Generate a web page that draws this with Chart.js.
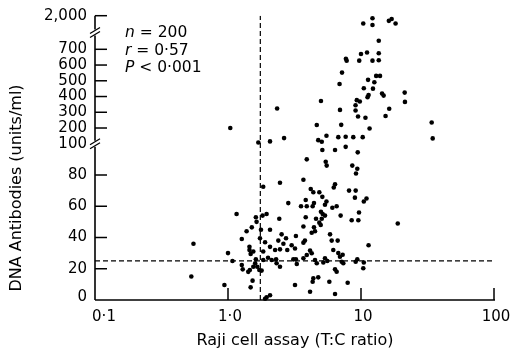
<!DOCTYPE html>
<html>
<head>
<meta charset="utf-8">
<script src="https://cdn.jsdelivr.net/npm/chart.js@4.4.1/dist/chart.umd.min.js"></script>
<style>
  html, body { margin: 0; padding: 0; background: #fff; }
</style>
</head>
<body>
<canvas id="rajiChart" width="512" height="349"></canvas>
<script>
// Raji cell assay (T:C ratio) for each patient
const raji = [
  12.2, 10.4, 12.2, 16.2, 17, 18.2, 13.6, 10, 11.1, 13.6,
  7.7, 7.8, 9.7, 12.2, 13.6, 7.2, 13.0, 13.9, 6.9, 11.3,
  12.6, 10.5, 12.3, 11.4, 11.2, 14.4, 14.8, 21.3, 21.4, 5.0,
  9.3, 9.8, 9.1, 2.34, 6.95, 9.1, 16.3, 15.3, 9.5, 10.8,
  4.65, 7.1, 11.6, 34, 34.6, 1.69, 2.07, 2.64, 1.04, 5.5,
  4.77, 5.07, 6.75, 7.67, 8.75, 10.3, 5.12, 6.38, 7.67, 9.45,
  3.91, 5.43, 5.52, 8.6, 9.38, 9.17, 2.46, 1.84, 2.84, 1.16,
  1.62, 1.64, 1.82, 1.95, 2.43, 3.69, 6.38, 6.24, 4.19, 4.38,
  4.86, 8.13, 9.12, 5.12, 3.84, 9.0, 11.0, 10.5, 5.5, 5.36,
  4.43, 4.33, 3.54, 3.91, 6.09, 6.56, 5.0, 5.15, 5.36, 5.07,
  4.86, 3.84, 4.59, 7.03, 9.66, 8.51, 9.55, 1.51, 1.38, 1.27,
  1.77, 2.07, 1.74, 1.9, 2.07, 2.26, 2.46, 2.61, 2.73, 2.53,
  2.39, 2.79, 1.45, 1.45, 1.55, 1.48, 1.0, 1.08, 1.84, 1.84,
  2.13, 2.32, 2.46, 2.3, 1.27, 1.29, 1.42, 1.46, 1.55, 1.6,
  1.66, 1.72, 1.79, 1.53, 1.48, 0.94, 1.95, 2.07, 1.9, 3.69,
  4.43, 4.98, 4.26, 4.51, 3.24, 3.69, 3.79, 3.01, 3.19, 5.85,
  6.02, 6.68, 4.14, 4.26, 3.91, 3.69, 3.24, 3.1, 3.29, 4.51,
  4.65, 5.36, 5.58, 5.21, 6.19, 6.75, 6.95, 7.28, 7.16, 7.36,
  9.12, 10.5, 10.4, 11.4, 6.38, 6.56, 4.38, 4.33, 4.77, 3.19,
  4.14, 5.78, 7.94, 6.38, 18.9, 9.38, 0.55, 0.53, 1.62, 2.0
];

// DNA antibodies (units/ml), same order
const dna = [
  1900, 1700, 1640, 1800, 1870, 1700, 1030, 670, 680, 675,
  640, 628, 628, 628, 630, 552, 531, 531, 480, 506,
  491, 453, 450, 410, 396, 419, 406, 425, 366, 372,
  377, 368, 345, 324, 315, 311, 322, 276, 273, 265,
  219, 220, 197, 235, 134, 108, 115, 136, 200, 151,
  123, 113, 142, 144, 142, 142, 96, 96, 98, 94.5,
  90, 88.5, 86, 86, 84, 81, 75, 72.5, 62, 55,
  53, 50, 54, 55, 52, 77, 74, 72, 71, 69,
  69, 70, 70, 66, 64, 65.5, 65, 63, 63, 61,
  62, 60, 60, 60, 59, 60, 56.5, 55, 54, 52,
  49.5, 53, 52, 54, 56, 51, 51, 46.5, 44, 39,
  45, 45, 39.5, 37, 34, 32, 32.4, 36, 39.5, 42,
  38, 32, 34, 32, 31, 29.5, 30, 25, 31, 25.6,
  25.6, 23.5, 21.3, 26, 22.4, 19.6, 18, 19.2, 21.3, 23.5,
  21.3, 19.2, 18.8, 12.4, 8.1, 9.6, 1.7, 3, 0.8, 47,
  46.5, 48, 43, 44, 41, 36.7, 38, 35, 33, 42,
  38, 38, 31.6, 29.9, 28.8, 26.7, 26, 26, 23, 25.6,
  23.5, 26.7, 25, 24, 32, 30, 27.7, 29, 24.5, 23.5,
  24.5, 24, 20.3, 35, 19.6, 18.1, 13.9, 11.7, 14.5, 9.6,
  5.3, 11.7, 11, 3.8, 49, 26, 36, 15, 26, 27
];

const xTicks = [0.1, 1, 10, 100];
const xTickLabels = ['0·1', '1·0', '10', '100'];
const yTicks = [0, 20, 40, 60, 80, 100, 200, 300, 400, 500, 600, 700, 2000];
const yTickLabels = ['0', '20', '40', '60', '80', '100', '200', '300', '400', '500', '600', '700', '2,000'];

const rajiCutoff = 1.75;
const dnaCutoff = 25;
const statLines = [['n', ' = 200'], ['r', ' = 0·57'], ['P', ' < 0·001']];

// broken y axis: 0-100 linear, 100-700 compressed, 700-2000 compressed again
function toAxis(v) {
  if (v <= 100) return v * 1.5625;
  if (v <= 700) return 156.25 + (v - 100) * 0.15742;
  return 250.7 + (v - 700) * 0.025846;
}

const FONT = '"DejaVu Sans", sans-serif';

const axesPlugin = {
  id: 'brokenAxes',
  afterDraw(chart) {
    const ctx = chart.ctx;
    const xs = chart.scales.x, ys = chart.scales.y;
    const x0 = xs.getPixelForValue(0.1);
    const x1 = xs.getPixelForValue(100);
    const yb = ys.getPixelForValue(0);
    const yt = ys.getPixelForValue(toAxis(2000));
    const brk1 = ys.getPixelForValue(toAxis(100));
    const brk2 = (ys.getPixelForValue(toAxis(700)) + yt) / 2;

    ctx.save();
    ctx.strokeStyle = '#000';
    ctx.lineWidth = 1.6;
    ctx.setLineDash([]);

    function seg(ax, ay, bx, by) {
      ctx.beginPath(); ctx.moveTo(ax, ay); ctx.lineTo(bx, by); ctx.stroke();
    }

    // axis lines
    seg(x0, yb, x1 + 1, yb);
    seg(x0, yb, x0, brk1 + 3);
    seg(x0, brk1 - 3, x0, brk2 + 3);
    seg(x0, brk2 - 3, x0, yt);

    // break marks
    ctx.lineWidth = 1.3;
    [brk1, brk2].forEach(function (y) {
      seg(x0 - 5, y + 5, x0 + 5, y - 1);
      seg(x0 - 5, y + 1, x0 + 5, y - 5);
    });

    // ticks (pointing inward)
    ctx.lineWidth = 1.5;
    yTicks.forEach(function (v) {
      if (v === 0 || v === 100) return;
      const y = ys.getPixelForValue(toAxis(v));
      seg(x0, y, x0 + 12, y);
    });
    xTicks.forEach(function (v) {
      if (v === 0.1) return;
      const x = xs.getPixelForValue(v);
      seg(x, yb, x, yb - 12);
    });

    // tick labels
    ctx.fillStyle = '#000';
    ctx.font = '15px ' + FONT;
    ctx.textAlign = 'right';
    ctx.textBaseline = 'middle';
    yTicks.forEach(function (v, i) {
      const y = ys.getPixelForValue(toAxis(v));
      ctx.fillText(yTickLabels[i], x0 - 8, v === 0 ? y - 3 : y);
    });
    ctx.textAlign = 'center';
    xTicks.forEach(function (v, i) {
      const x = xs.getPixelForValue(v);
      ctx.fillText(xTickLabels[i], v === 0.1 ? x + 9 : x + 2, yb + 17);
    });

    // axis titles
    ctx.font = '16px ' + FONT;
    ctx.fillText('Raji cell assay (T:C ratio)', 295, 341);
    ctx.save();
    ctx.translate(17, 188);
    ctx.rotate(-Math.PI / 2);
    ctx.fillText('DNA Antibodies (units/ml)', 0, 0);
    ctx.restore();

    // stats
    ctx.textAlign = 'left';
    statLines.forEach(function (p, i) {
      const y = 33 + i * 17.5;
      ctx.font = 'italic 15.5px ' + FONT;
      ctx.fillText(p[0], 125, y);
      const w = ctx.measureText(p[0]).width;
      ctx.font = '15.5px ' + FONT;
      ctx.fillText(p[1], 125 + w, y);
    });
    ctx.restore();
  }
};

const points = raji.map(function (r, i) { return { x: r, y: toAxis(dna[i]) }; });

new Chart(document.getElementById('rajiChart').getContext('2d'), {
  type: 'scatter',
  data: {
    datasets: [
      {
        data: points,
        pointRadius: 2.3,
        pointHoverRadius: 2.3,
        pointBackgroundColor: '#000',
        pointBorderWidth: 0,
        clip: false
      },
      {
        type: 'line',
        data: [{ x: 0.1, y: toAxis(dnaCutoff) }, { x: 100, y: toAxis(dnaCutoff) }],
        borderColor: '#000',
        borderWidth: 1.2,
        borderDash: [5, 3],
        pointRadius: 0,
        fill: false
      },
      {
        type: 'line',
        data: [{ x: rajiCutoff, y: 0 }, { x: rajiCutoff, y: toAxis(2000) }],
        borderColor: '#000',
        borderWidth: 1.2,
        borderDash: [5, 3],
        pointRadius: 0,
        fill: false
      }
    ]
  },
  options: {
    responsive: false,
    animation: false,
    layout: { padding: { left: 95, right: 18, top: 15.7, bottom: 49 } },
    plugins: { legend: { display: false }, tooltip: { enabled: false } },
    scales: {
      x: { type: 'logarithmic', min: 0.1, max: 100, display: false },
      y: { type: 'linear', min: 0, max: toAxis(2000), display: false }
    }
  },
  plugins: [axesPlugin]
});
</script>
</body>
</html>
